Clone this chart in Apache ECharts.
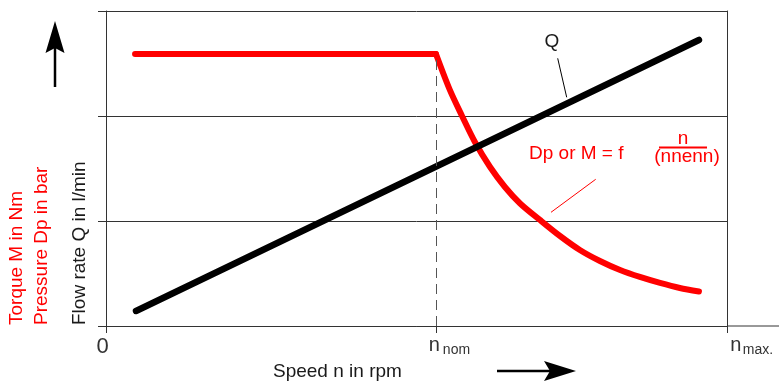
<!DOCTYPE html>
<html>
<head>
<meta charset="utf-8">
<script src="https://cdn.jsdelivr.net/npm/echarts@6/dist/echarts.min.js"></script>
<style>
html,body{margin:0;padding:0;background:#fff;}
#chart{width:779px;height:382px;}
</style>
</head>
<body>
<div id="chart"></div>
<script>
// ---- data (speed relative to n_nom = 1) ----
const nNom = 1.0;
const nMax = 1.882;
const flowSpeed = [0.091, 1.797];
const flowValue = [0.143, 2.724];
const torqueFlatSpeed = [0.088, 1.0];
const torqueFlatValue = [2.59, 2.59];
const torqueCurveSpeed = [1.0, 1.042, 1.079, 1.118, 1.164, 1.209, 1.255, 1.315, 1.376, 1.436, 1.497, 1.558, 1.618, 1.679, 1.739, 1.797];
const torqueCurveValue = [2.59, 2.248, 2.0, 1.752, 1.514, 1.324, 1.167, 1.010, 0.857, 0.724, 0.619, 0.533, 0.467, 0.410, 0.362, 0.329];
const speedTicks = [0, nNom, nMax];
const speedTickLabels = ['0', 'nom', 'max.'];
const yMin = 0, yMax = 3, yInterval = 1;

const zip = (a, b) => a.map((v, i) => [v, b[i]]);

const chart = echarts.init(document.getElementById('chart'), null, {renderer: 'canvas'});
const FONT = 'Liberation Sans, Arial, Helvetica, sans-serif';
const RED = '#ff0000';

const option = {
  animation: false,
  backgroundColor: '#fff',
  textStyle: {fontFamily: FONT},
  grid: {left: 106, top: 11, width: 621, height: 315, outerBoundsMode: 'none', containLabel: false},
  xAxis: {
    type: 'value', min: 0, max: nMax,
    axisLine: {show: true, lineStyle: {color: '#333', width: 1}},
    axisTick: {show: true, customValues: speedTicks, length: 7, lineStyle: {color: '#333'}},
    splitLine: {show: false},
    axisLabel: {
      show: true, customValues: speedTicks, margin: 8, color: '#333', fontFamily: FONT,
      formatter: function (v) {
        if (Math.abs(v) < 1e-6) return '{z|' + speedTickLabels[0] + '}{pz| }';
        if (Math.abs(v - nNom) < 1e-6) return '{pn| }{n|n}{s|' + speedTickLabels[1] + '}';
        return '{pm| }{m|n}{s|' + speedTickLabels[2] + '}';
      },
      rich: {
        z: {fontSize: 22, color: '#333', fontFamily: FONT, verticalAlign: 'middle', padding: [2, 0, 0, 0]},
        pz: {width: 7, fontSize: 10},
        pn: {width: 24, fontSize: 10},
        pm: {width: 48, fontSize: 10},
        n: {fontSize: 20, width: 17, color: '#333', fontFamily: FONT, verticalAlign: 'middle'},
        m: {fontSize: 20, width: 14, color: '#333', fontFamily: FONT, verticalAlign: 'middle'},
        s: {fontSize: 14, color: '#333', fontFamily: FONT, verticalAlign: 'middle', padding: [9, 0, 0, 0]}
      }
    }
  },
  yAxis: [
    {
      type: 'value', min: yMin, max: yMax, interval: yInterval,
      axisLine: {show: true, lineStyle: {color: '#333', width: 1}},
      axisTick: {show: true, length: 8, lineStyle: {color: '#333'}},
      axisLabel: {show: false},
      splitLine: {show: true, lineStyle: {color: '#333', width: 1}}
    },
    {
      type: 'value', min: yMin, max: yMax, interval: yInterval, position: 'right',
      axisLine: {show: true, lineStyle: {color: '#333', width: 1}},
      axisTick: {show: false}, axisLabel: {show: false}, splitLine: {show: false}
    }
  ],
  series: [
    {
      name: 'nom', type: 'line', data: [[nNom, yMin], [nNom, yMin]], symbol: 'none', silent: true,
      lineStyle: {width: 0},
      markLine: {
        silent: true, symbol: 'none', label: {show: false},
        lineStyle: {color: '#555', width: 1, type: [10, 6]},
        data: [[{coord: [nNom, yMin]}, {coord: [nNom, torqueFlatValue[1]]}]]
      }
    },
    {
      name: 'Q', type: 'line', data: zip(flowSpeed, flowValue), symbol: 'none', silent: true,
      lineStyle: {color: '#000', width: 6.5, cap: 'round'}, z: 3
    },
    {
      name: 'M flat', type: 'line', data: zip(torqueFlatSpeed, torqueFlatValue), symbol: 'none', silent: true,
      lineStyle: {color: RED, width: 6, cap: 'round', join: 'round'}, z: 2
    },
    {
      name: 'M curve', type: 'line', data: zip(torqueCurveSpeed, torqueCurveValue), symbol: 'none', silent: true,
      smooth: 0.3,
      lineStyle: {color: RED, width: 6, cap: 'round', join: 'round'}, z: 2
    }
  ],
  graphic: [
    // x axis extension
    {type: 'line', shape: {x1: 727, y1: 326, x2: 779, y2: 326}, style: {stroke: '#333', lineWidth: 1}},
    // up arrow
    {type: 'line', shape: {x1: 55, y1: 87, x2: 55, y2: 46}, style: {stroke: '#000', lineWidth: 2.5}},
    {type: 'polygon', shape: {points: [[55, 21], [64.5, 53], [55, 48], [45.5, 53]]}, style: {fill: '#000'}},
    // right arrow
    {type: 'line', shape: {x1: 497, y1: 371, x2: 555, y2: 371}, style: {stroke: '#000', lineWidth: 2.5}},
    {type: 'polygon', shape: {points: [[576, 371], [544, 361], [550, 371], [544, 381]]}, style: {fill: '#000'}},
    // rotated axis titles
    {type: 'text', x: 17, y: 325, rotation: Math.PI / 2,
      style: {text: 'Torque M in Nm', fill: RED, font: '19px ' + FONT, align: 'left', verticalAlign: 'middle'}},
    {type: 'text', x: 41.5, y: 325, rotation: Math.PI / 2,
      style: {text: 'Pressure Dp in bar', fill: RED, font: '19px ' + FONT, align: 'left', verticalAlign: 'middle'}},
    {type: 'text', x: 79.5, y: 325, rotation: Math.PI / 2,
      style: {text: 'Flow rate Q in l/min', fill: '#1a1a1a', font: '19px ' + FONT, align: 'left', verticalAlign: 'middle'}},
    // x axis title
    {type: 'text', x: 273, y: 371.5,
      style: {text: 'Speed n in rpm', fill: '#1a1a1a', font: '19px ' + FONT, align: 'left', verticalAlign: 'middle'}},
    // Q annotation
    {type: 'text', x: 552, y: 41.5,
      style: {text: 'Q', fill: '#1a1a1a', font: '19px ' + FONT, align: 'center', verticalAlign: 'middle'}},
    {type: 'line', shape: {x1: 557.7, y1: 58.3, x2: 566.7, y2: 97.3}, style: {stroke: '#000', lineWidth: 1}},
    // Dp annotation
    {type: 'text', x: 529, y: 153.5,
      style: {text: 'Dp or M = f', fill: RED, font: '19px ' + FONT, align: 'left', verticalAlign: 'middle'}},
    {type: 'text', x: 683, y: 139,
      style: {text: 'n', fill: RED, font: '19px ' + FONT, align: 'center', verticalAlign: 'middle'}},
    {type: 'rect', shape: {x: 659, y: 146.5, width: 48, height: 2}, style: {fill: RED}},
    {type: 'text', x: 687, y: 156.5,
      style: {text: '(nnenn)', fill: RED, font: '19px ' + FONT, align: 'center', verticalAlign: 'middle'}},
    {type: 'line', shape: {x1: 595.7, y1: 179.3, x2: 551, y2: 212.3}, style: {stroke: RED, lineWidth: 1}}
  ]
};
chart.setOption(option);
</script>
</body>
</html>
